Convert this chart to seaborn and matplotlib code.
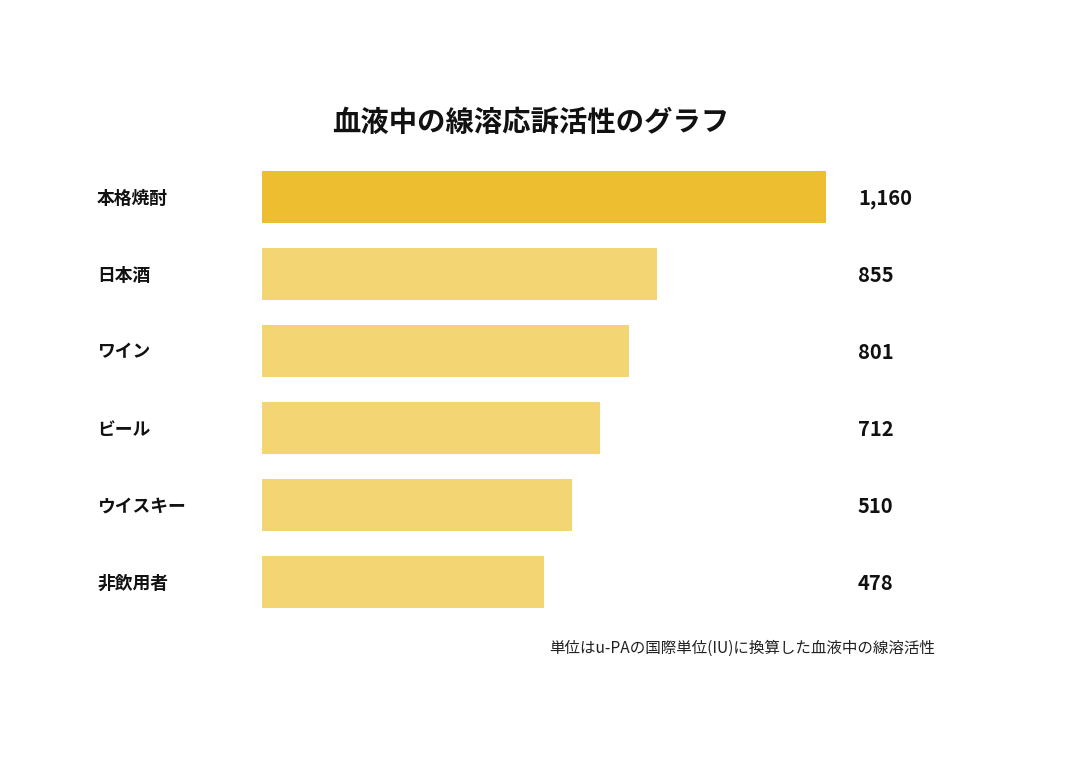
import matplotlib
matplotlib.use("Agg")
import matplotlib.pyplot as plt
import seaborn as sns
import pandas as pd

categories = ["本格焼酎", "日本酒", "ワイン", "ビール", "ウイスキー", "非飲用者"]
values = [1160, 855, 801, 712, 510, 478]
# Drawn bar extents as they appear in the picture (bars are not to value scale)
bar_extent = [1160, 812, 755, 695, 638, 580]
value_labels = ["1,160", "855", "801", "712", "510", "478"]
title = "血液中の線溶応訴活性のグラフ"
note = "単位はu-PAの国際単位(IU)に換算した血液中の線溶活性"

sns.set_theme(style="white")
plt.rcParams["font.family"] = ["Noto Sans CJK JP", "DejaVu Sans"]

df = pd.DataFrame({"cat": categories, "extent": bar_extent, "label": value_labels})
palette = ["#EDBE2F"] + ["#F3D673"] * (len(categories) - 1)

W, H = 1080, 764
fig = plt.figure(figsize=(W / 100, H / 100), dpi=100)
ax = fig.add_axes([262 / W, 1 - 620.5 / H, (826 - 262) / W, (620.5 - 158.5) / H])
sns.barplot(data=df, y="cat", x="extent", hue="cat", palette=palette,
            legend=False, width=0.67, ax=ax, saturation=1, orient="h",
            linewidth=0, edgecolor="none")
ax.set_xlim(0, 1160)
ax.set_ylim(len(categories) - 0.5, -0.5)
ax.set_xlabel("")
ax.set_ylabel("")
ax.set_xticks([])
ax.set_yticks([])
for s in ax.spines.values():
    s.set_visible(False)

px = 1160 / (826 - 262)
for i, (cat, lab) in enumerate(zip(categories, value_labels)):
    ax.text((97 - 262) * px, i + 0.02, cat, ha="left", va="center", fontsize=12.8,
            fontweight="bold", color="#111111", clip_on=False)
    ax.text(1160 + (858 - 826) * px, i + 0.02, lab, ha="left", va="center", fontsize=14.5,
            fontweight="bold", color="#111111", clip_on=False)

fig.text(530.5 / W, 1 - 123 / H, title, ha="center", va="center", fontsize=20.4,
         fontweight="bold", color="#111111")
fig.text(935 / W, 1 - 648 / H, note, ha="right", va="center", fontsize=11.2,
         color="#222222")

fig.savefig("out.png", dpi=100, facecolor="white")
